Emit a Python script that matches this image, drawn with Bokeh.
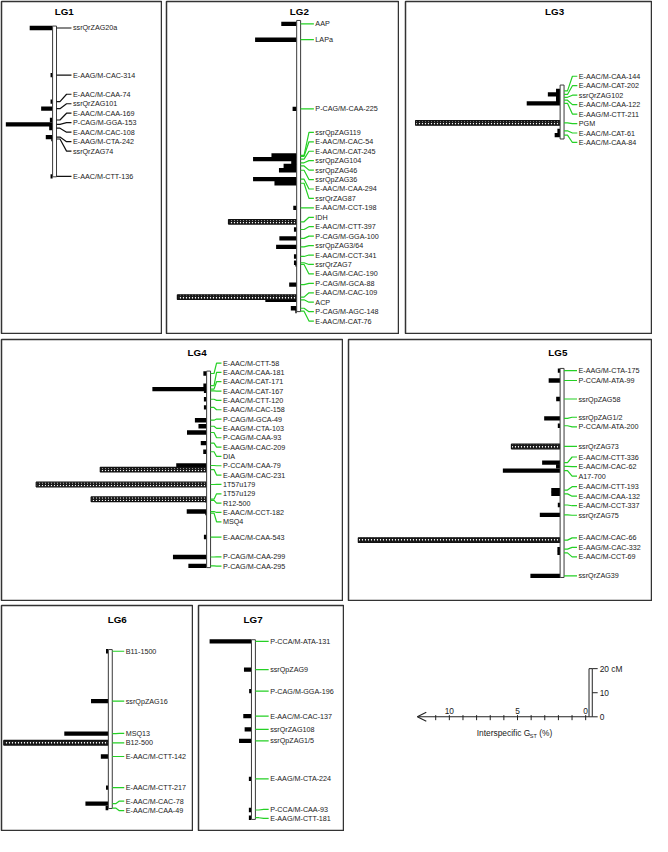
from bokeh.plotting import figure
from bokeh.layouts import row, column
from bokeh.models import ColumnDataSource, Range1d, Spacer, Arrow, OpenHead
from bokeh.core.properties import value
from bokeh.embed import file_html
from bokeh.resources import INLINE

# ---------------------------------------------------------------- data
# marker names, map positions (cM from top of group), interspecific GST (%),
# significance flag (hatched bars) and group length (cM)
lg1_markers = ["ssrQrZAG20a", "E-AAG/M-CAC-314", "E-AAC/M-CAA-74", "ssrQrZAG101",
               "E-AAC/M-CAA-169", "P-CAG/M-GGA-153", "E-AAC/M-CAC-108",
               "E-AAG/M-CTA-242", "ssrQrZAG74", "E-AAC/M-CTT-136"]
lg1_cm = [0.8, 20.4, 31.4, 34.3, 39.0, 40.8, 42.4, 46.1, 46.9, 62.4]
lg1_gst = [1.68, 0.15, 0.15, 0.84, 0.2, 3.43, 0.25, 0.5, 0.1, 0.15]
lg1_sig = [0, 0, 0, 0, 0, 0, 0, 0, 0, 0]
lg1_length = 62.6

lg2_markers = ["AAP", "LAPa", "P-CAG/M-CAA-225", "ssrQpZAG119", "E-AAC/M-CAC-54",
               "E-AAC/M-CAT-245", "ssrQpZAG104", "ssrQpZAG46", "ssrQpZAG36",
               "E-AAC/M-CAA-294", "ssrQrZAG87", "E-AAC/M-CCT-198", "IDH",
               "E-AAC/M-CTT-397", "P-CAG/M-GGA-100", "ssrQpZAG3/64", "E-AAC/M-CCT-341",
               "ssrQrZAG7", "E-AAG/M-CAC-190", "P-CAG/M-GCA-88", "E-AAC/M-CAC-109",
               "ACP", "P-CAG/M-AGC-148", "E-AAC/M-CAT-76"]
lg2_cm = [1.4, 8.0, 36.7, 56.0, 56.4, 57.6, 59.1, 60.4, 62.2, 65.9, 67.6, 77.8, 83.6,
          86.8, 90.5, 94.0, 98.0, 100.6, 101.3, 109.7, 114.9, 116.0, 119.5, 120.7]
lg2_gst = [1.13, 3.05, 0.3, 1.85, 0.2, 3.2, 0.4, 0.96, 1.3, 3.2, 1.63, 0.25, 5.0,
           0.2, 1.27, 1.51, 0.2, 0.2, 0.1, 0.55, 8.75, 2.3, 0.43, 0.1]
lg2_sig = [0, 0, 0, 0, 0, 0, 0, 0, 0, 0, 0, 0, 1, 0, 0, 0, 0, 0, 0, 0, 1, 0, 0, 0]
lg2_length = 120.9

lg3_markers = ["E-AAC/M-CAA-144", "E-AAC/M-CAT-202", "ssrQrZAG102", "E-AAC/M-CAA-122",
               "E-AAG/M-CTT-211", "PGM", "E-AAC/M-CAT-61", "E-AAC/M-CAA-84"]
lg3_cm = [2.4, 3.9, 5.1, 6.3, 7.6, 15.7, 19.0, 20.8]
lg3_gst = [0.3, 0.9, 0.3, 0.3, 2.45, 10.6, 0.2, 0.4]
lg3_sig = [0, 0, 0, 0, 0, 1, 0, 0]
lg3_length = 22.4

lg4_markers = ["E-AAC/M-CTT-58", "E-AAC/M-CAA-181", "E-AAC/M-CAT-171", "E-AAC/M-CAT-167",
               "E-AAC/M-CTT-120", "E-AAC/M-CAC-158", "P-CAG/M-GCA-49", "E-AAG/M-CTA-103",
               "P-CAG/M-CAA-93", "E-AAG/M-CAC-209", "DIA", "P-CCA/M-CAA-79",
               "E-AAG/M-CAC-231", "1T57u179", "1T57u129", "R12-500", "E-AAC/M-CCT-182",
               "MSQ4", "E-AAC/M-CAA-543", "P-CAG/M-CAA-299", "P-CAG/M-CAA-295"]
lg4_cm = [1.0, 6.0, 7.5, 8.2, 11.7, 15.1, 20.4, 22.9, 25.5, 29.9, 33.5, 39.2, 40.9,
          47.1, 53.2, 53.7, 58.3, 59.0, 68.9, 77.2, 80.9]
lg4_gst = [0.24, 0.24, 3.98, 0.2, 0.2, 0.2, 0.86, 0.6, 1.44, 0.43, 0.25, 2.23, 7.8,
           12.5, 8.47, 0.1, 1.46, 0.1, 0.2, 2.47, 1.34]
lg4_sig = [0, 0, 0, 0, 0, 0, 0, 0, 0, 0, 0, 0, 1, 1, 1, 0, 0, 0, 0, 0, 0]
lg4_length = 81.6

lg5_markers = ["E-AAG/M-CTA-175", "P-CCA/M-ATA-99", "ssrQpZAG58", "ssrQpZAG1/2",
               "P-CCA/M-ATA-200", "ssrQrZAG73", "E-AAC/M-CTT-336", "E-AAC/M-CAC-62",
               "A17-700", "E-AAC/M-CTT-193", "E-AAC/M-CAA-132", "E-AAC/M-CCT-337",
               "ssrQrZAG75", "E-AAC/M-CAC-66", "E-AAG/M-CAC-332", "E-AAC/M-CCT-69",
               "ssrQrZAG39"]
lg5_cm = [0.9, 5.0, 12.7, 20.7, 23.8, 32.4, 39.1, 40.7, 42.4, 50.5, 52.1, 56.7, 60.8,
          71.3, 75.0, 76.6, 86.1]
lg5_gst = [0.17, 0.84, 0.29, 1.17, 0.17, 3.57, 1.32, 0.3, 4.2, 0.65, 0.65, 0.17, 1.49,
           14.8, 0.2, 0.2, 2.18]
lg5_sig = [0, 0, 0, 0, 0, 1, 0, 0, 0, 0, 0, 0, 0, 1, 0, 0, 0]
lg5_length = 86.8

lg6_markers = ["B11-1500", "ssrQpZAG16", "MSQ13", "B12-500", "E-AAC/M-CTT-142",
               "E-AAC/M-CTT-217", "E-AAC/M-CAC-78", "E-AAC/M-CAA-49"]
lg6_cm = [0.7, 21.4, 34.9, 38.7, 44.4, 57.3, 64.0, 65.8]
lg6_gst = [0.17, 1.27, 3.23, 7.67, 0.55, 0.17, 1.68, 0.2]
lg6_sig = [0, 0, 0, 1, 0, 0, 0, 0]
lg6_length = 66.0

lg7_markers = ["P-CCA/M-ATA-131", "ssrQpZAG9", "P-CAG/M-GGA-196", "E-AAC/M-CAC-137",
               "ssrQrZAG108", "ssrQpZAG1/5", "E-AAG/M-CTA-224", "P-CCA/M-CAA-93",
               "E-AAG/M-CTT-181"]
lg7_cm = [0.7, 12.4, 21.3, 31.7, 37.2, 42.0, 57.8, 70.7, 73.9]
lg7_gst = [3.07, 0.55, 0.17, 0.6, 0.5, 0.91, 0.19, 0.19, 0.19]
lg7_sig = [0, 0, 0, 0, 0, 0, 0, 0, 0]
lg7_length = 74.6

# legend scales
gst_ticks = [0, 1, 2, 3, 4, 5, 6, 7, 8, 9, 10, 11]
gst_tick_values = [10, 5, 0]
gst_tick_labels = ["10", "5", "0"]
cm_ticks = [0, 10, 20]
cm_tick_labels = ["0", "10", "20 cM"]
cm_scale_length = 20

# ---------------------------------------------------------------- layout / style
S = 0.983           # overall scale of the page
REF_PCT = 13.87     # px per 1 % GST at scale 1
REF_CM = 2.45       # px per cM at scale 1
PX_PCT = REF_PCT * S
PX_CM = REF_CM * S
B = 1
GREEN = "#25d025"
FONT = "Liberation Sans"
LABEL_SIZE = "7.2px"
CHROM_W = 4.0 / REF_PCT
BAR_H = 4.4 / REF_CM
HATCH_H = 4.7 / REF_CM

PANELS = {
    "LG1": dict(x0=0, y0=0, w=162, h=334, chrom_x=56.0, chrom_top=29.0,
                title_x=67.8, title_y=14, d=9.65, gap=16.7, color="#111111"),
    "LG2": dict(x0=165, y0=0, w=234, h=334, chrom_x=304.3, chrom_top=23.3,
                title_x=307, title_y=14, d=9.6, gap=15.0, color=GREEN),
    "LG3": dict(x0=404, y0=0, w=248, h=334, chrom_x=572.3, chrom_top=89.0,
                title_x=566.7, title_y=14, d=9.62, gap=15.0, color=GREEN),
    "LG4": dict(x0=0, y0=338, w=343, h=263, chrom_x=212.7, chrom_top=380.0,
                title_x=203, title_y=360.7, d=9.5, gap=12.6, color=GREEN),
    "LG5": dict(x0=347, y0=338, w=305, h=263, chrom_x=572.3, chrom_top=377.3,
                title_x=570, title_y=360.7, d=9.7, gap=14.7, color=GREEN),
    "LG6": dict(x0=0, y0=604, w=193, h=227, chrom_x=112.7, chrom_top=663.3,
                title_x=121.7, title_y=632.7, d=9.7, gap=13.7, color=GREEN),
    "LG7": dict(x0=197, y0=604, w=147, h=227, chrom_x=258.3, chrom_top=653.3,
                title_x=260, title_y=632.7, d=9.3, gap=15.0, color=GREEN),
}
LEGEND = dict(x0=344, y0=604, w=308, h=227, zero_x=598.3, zero_y=731.7)


def spread(pos, d):
    """Place labels as close as possible to their loci with minimum spacing d."""
    clusters = []
    for p in pos:
        clusters.append([1, p])
        while len(clusters) > 1:
            n1, s1 = clusters[-2]
            n2, s2 = clusters[-1]
            if s2 / n2 < s1 / n1 + n1 * d:
                clusters[-2] = [n1 + n2, s1 + s2 - n1 * n2 * d]
                clusters.pop()
            else:
                break
    out = []
    for n, s in clusters:
        st = s / n
        out += [st + k * d for k in range(n)]
    return out


def ranges(x0, y0, w, h, zx, zy, y_down=True):
    fw, fh = w - 2 * B, h - 2 * B
    fx = (zx - 3) * S - x0 - B
    fy = (zy - 3) * S - y0 - B
    xr = Range1d(start=fx / PX_PCT, end=-(fw - fx) / PX_PCT)
    if y_down:
        yr = Range1d(start=(fh - fy) / PX_CM, end=-fy / PX_CM)
    else:
        yr = Range1d(start=-(fh - fy) / PX_CM, end=fy / PX_CM)
    return xr, yr


def new_fig(w, h, xr, yr):
    p = figure(width=w, height=h, x_range=xr, y_range=yr, output_backend="svg",
               toolbar_location=None, x_axis_location=None, y_axis_location=None,
               min_border=B, title=None)
    p.grid.visible = False
    p.background_fill_color = "white"
    p.border_fill_color = "white"
    return p


def draw_lg(name, markers, cm, gst, sig, length):
    sp = PANELS[name]
    xr, yr = ranges(sp["x0"], sp["y0"], sp["w"], sp["h"], sp["chrom_x"], sp["chrom_top"])
    p = new_fig(sp["w"], sp["h"], xr, yr)
    p.outline_line_color = "#333333"
    p.outline_line_width = 1.5

    solid = ColumnDataSource(dict(y=[c for c, s in zip(cm, sig) if not s],
                                  g=[g for g, s in zip(gst, sig) if not s]))
    hatched = ColumnDataSource(dict(y=[c for c, s in zip(cm, sig) if s],
                                    g=[g for g, s in zip(gst, sig) if s]))
    p.hbar(y="y", left="g", right=0, height=BAR_H, source=solid,
           fill_color="black", line_color=None)
    p.hbar(y="y", left="g", right=0, height=HATCH_H, source=hatched,
           fill_color="white", line_color="#111111", line_width=1.2,
           hatch_pattern=value("right_diagonal_line"), hatch_color="#111111",
           hatch_scale=3.0, hatch_weight=1.3)
    p.quad(left=[0], right=[-CHROM_W], top=[0], bottom=[length],
           fill_color="white", line_color="#3a3a3a", line_width=1)

    lab = spread(cm, sp["d"] / REF_CM)
    gap = sp["gap"]
    k1 = -(CHROM_W + 3.5 / REF_PCT)
    k2 = -(CHROM_W + (gap - 6.5) / REF_PCT)
    k3 = -(CHROM_W + (gap - 1.5) / REF_PCT)
    lx = -(CHROM_W + gap / REF_PCT)
    xs = [[-CHROM_W, k1, k2, k3] for _ in cm]
    ys = [[c, c, l, l] for c, l in zip(cm, lab)]
    p.multi_line(xs=xs, ys=ys, line_color=sp["color"], line_width=1.2)
    p.text(x=lx, y=lab, text=markers, text_font=value(FONT), text_font_size=LABEL_SIZE,
           text_baseline="middle", text_align="left", text_color="#1a1a1a")
    p.text(x=[(sp["chrom_x"] - sp["title_x"]) / REF_PCT],
           y=[(sp["title_y"] - sp["chrom_top"]) / REF_CM], text=[name],
           text_font=value(FONT), text_font_size="9.8px", text_font_style="bold",
           text_align="center", text_baseline="middle", text_color="black")
    return p


p1 = draw_lg("LG1", lg1_markers, lg1_cm, lg1_gst, lg1_sig, lg1_length)
p2 = draw_lg("LG2", lg2_markers, lg2_cm, lg2_gst, lg2_sig, lg2_length)
p3 = draw_lg("LG3", lg3_markers, lg3_cm, lg3_gst, lg3_sig, lg3_length)
p4 = draw_lg("LG4", lg4_markers, lg4_cm, lg4_gst, lg4_sig, lg4_length)
p5 = draw_lg("LG5", lg5_markers, lg5_cm, lg5_gst, lg5_sig, lg5_length)
p6 = draw_lg("LG6", lg6_markers, lg6_cm, lg6_gst, lg6_sig, lg6_length)
p7 = draw_lg("LG7", lg7_markers, lg7_cm, lg7_gst, lg7_sig, lg7_length)

# ---------------------------------------------------------------- legend
L = LEGEND
lxr, lyr = ranges(L["x0"], L["y0"], L["w"], L["h"], L["zero_x"], L["zero_y"], y_down=False)
leg = new_fig(L["w"], L["h"], lxr, lyr)
leg.outline_line_color = None

bar_l = -(601.7 - L["zero_x"]) / REF_PCT
bar_r = -(605.0 - L["zero_x"]) / REF_PCT
tick_r = -(610.5 - L["zero_x"]) / REF_PCT
txt_x = -(612.5 - L["zero_x"]) / REF_PCT
arrow_end = (L["zero_x"] - 427.0) / REF_PCT

leg.add_layout(Arrow(end=OpenHead(size=9, line_width=1.1, line_color="#222222"),
                     x_start=bar_l, y_start=0, x_end=arrow_end, y_end=0,
                     line_width=1.1, line_color="#222222"))
leg.segment(x0=gst_ticks, y0=0.7, x1=gst_ticks, y1=-1.4, line_color="#222222", line_width=1)
leg.text(x=gst_tick_values, y=2.4, text=gst_tick_labels, text_font=value(FONT),
         text_font_size="8.4px", text_align="center", text_baseline="middle",
         text_color="#1a1a1a")

leg.quad(left=[bar_l], right=[bar_r], bottom=[0], top=[cm_scale_length],
         fill_color="white", line_color="#222222", line_width=1)
leg.segment(x0=bar_r, y0=cm_ticks, x1=tick_r, y1=cm_ticks, line_color="#222222", line_width=1)
leg.text(x=txt_x, y=cm_ticks, text=cm_tick_labels, text_font=value(FONT),
         text_font_size="8.4px", text_align="left", text_baseline="middle",
         text_color="#1a1a1a")

title_left = (L["zero_x"] - 487.5) / REF_PCT
ty = (L["zero_y"] - 748.3) / REF_CM
leg.text(x=[title_left], y=[ty], text=["Interspecific G"], text_font=value(FONT),
         text_font_size="8.4px", text_align="left", text_baseline="middle",
         text_color="#1a1a1a")
st_x = title_left - 54.0 / REF_PCT
leg.text(x=[st_x], y=[ty - 1.2], text=["ST"], text_font=value(FONT),
         text_font_size="5.5px", text_align="left", text_baseline="middle",
         text_color="#1a1a1a")
leg.text(x=[st_x - 9.5 / REF_PCT], y=[ty], text=["(%)"], text_font=value(FONT),
         text_font_size="8.4px", text_align="left", text_baseline="middle",
         text_color="#1a1a1a")

layout = column(
    row(p1, Spacer(width=3, height=334), p2, Spacer(width=5, height=334), p3),
    Spacer(width=652, height=4),
    row(p4, Spacer(width=4, height=263), p5),
    Spacer(width=652, height=3),
    row(p6, Spacer(width=4, height=227), p7, leg),
)

open("out.html", "w").write(file_html(layout, INLINE))
